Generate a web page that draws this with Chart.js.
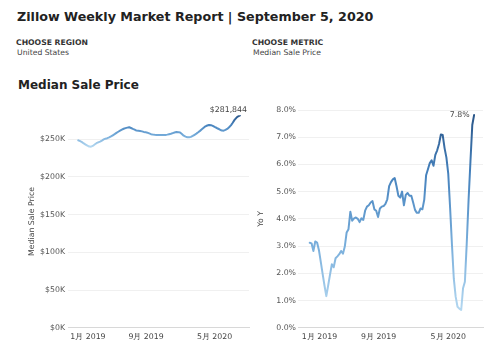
<!DOCTYPE html>
<html>
<head>
<meta charset="utf-8">
<script src="https://cdn.jsdelivr.net/npm/chart.js@4.4.1/dist/chart.umd.min.js"></script>
<style>
  body { margin:0; width:498px; height:354px; background:#fff; position:relative; overflow:hidden;
         font-family:'DejaVu Sans', sans-serif; color:#222; }
  .txt { position:absolute; white-space:nowrap; line-height:1; }
  canvas { position:absolute; top:100px; }
</style>
</head>
<body>
<div class="txt" style="left:17px; top:10.9px; font-size:12.7px; font-weight:bold;">Zillow Weekly Market Report | September 5, 2020</div>
<div class="txt" style="left:16px; top:39.2px; font-size:7.7px; font-weight:bold; color:#333;">CHOOSE REGION</div>
<div class="txt" style="left:17px; top:49.2px; font-size:7.7px; color:#444;">United States</div>
<div class="txt" style="left:252px; top:39.2px; font-size:7.7px; font-weight:bold; color:#333;">CHOOSE METRIC</div>
<div class="txt" style="left:253px; top:49.2px; font-size:7.7px; color:#444;">Median Sale Price</div>
<div class="txt" style="left:18px; top:79.2px; font-size:12px; font-weight:bold;">Median Sale Price</div>

<canvas id="price" width="250" height="254" style="left:0;"></canvas>
<canvas id="yoy" width="248" height="254" style="left:250px;"></canvas>

<script>
// weekly series, Dec 2018 -> Aug 2020 (one value per week)
const PRICE = [
  248700, 247500, 246300, 244500, 243000, 241500, 240300, 240200, 241200, 243000,
  244800, 246000, 247000, 248300, 249800, 250800, 251500, 252500, 253800, 255300,
  256800, 258500, 260000, 261500, 262800, 264000, 264800, 265500, 266000, 265000,
  263800, 262800, 261500, 261200, 260900, 260500, 259800, 259500, 258800, 257800,
  256800, 256200, 255900, 255700, 255800, 255600, 255700, 255800, 255800, 256200,
  256800, 257300, 258200, 259000, 259600, 259500, 259000, 257000, 254800, 253500,
  252700, 252600, 253200, 254500, 256000, 257500, 259300, 261200, 263200, 265200,
  267200, 268300, 269000, 268800, 267800, 266500, 265300, 264000, 262700, 261600,
  261500, 262500, 263800, 266000, 268500, 272000, 275800, 278500, 280500, 281844
];
const YOY = [
  3.12, 3.10, 2.82, 3.17, 3.13, 2.85, 2.42, 1.98, 1.55, 1.16,
  1.55, 1.95, 2.33, 2.22, 2.55, 2.62, 2.70, 2.82, 2.72, 2.98,
  3.50, 3.62, 4.26, 3.93, 4.02, 4.05, 4.00, 3.88, 4.02, 3.96,
  4.30, 4.45, 4.50, 4.60, 4.65, 4.35, 4.30, 4.07, 4.38, 4.45,
  4.47, 4.55, 4.72, 5.20, 5.35, 5.45, 5.50, 5.20, 4.85, 4.78,
  5.00, 4.50, 4.88, 4.95, 4.85, 4.85, 4.60, 4.33, 4.22, 4.22,
  4.38, 4.35, 4.70, 5.60, 5.82, 6.05, 6.15, 5.95, 6.35, 6.52,
  6.75, 7.10, 7.08, 6.60, 6.25, 5.65, 4.40, 3.05, 1.80, 1.14,
  0.77, 0.70, 0.65, 1.45, 1.69, 3.10, 4.70, 6.10, 7.45, 7.82
];
const WEEKS = PRICE.map((_, i) => i);
const XTICK_POS = [5.3, 37.3, 75];
const XTICK_LABELS = ['1月 2019', '9月 2019', '5月 2020'];
const PRICE_TICKS = [0, 50000, 100000, 150000, 200000, 250000];
const YOY_TICKS = [0, 1, 2, 3, 4, 5, 6, 7, 8];

Chart.defaults.font.family = "'DejaVu Sans', sans-serif";
Chart.defaults.font.size = 7.8;
Chart.defaults.color = '#555';

// colour the line by value: light blue at the low, dark blue at the high
function valueGradient(context) {
  const chart = context.chart;
  if (!chart.chartArea) return '#5b9bd5';
  const vals = chart.data.datasets[0].data;
  const y = chart.scales.y;
  const g = chart.ctx.createLinearGradient(0, y.getPixelForValue(Math.min(...vals)), 0, y.getPixelForValue(Math.max(...vals)));
  g.addColorStop(0, '#b3d7f0');
  g.addColorStop(0.35, '#76acda');
  g.addColorStop(0.7, '#4682bd');
  g.addColorStop(1, '#2a5689');
  return g;
}

const endLabel = {
  id: 'endLabel',
  afterDatasetsDraw(chart, args, opts) {
    const pts = chart.getDatasetMeta(0).data;
    const last = pts[pts.length - 1];
    const ctx = chart.ctx;
    ctx.save();
    ctx.font = "7.8px 'DejaVu Sans', sans-serif";
    ctx.fillStyle = '#444';
    ctx.textAlign = 'right';
    ctx.textBaseline = 'middle';
    ctx.fillText(opts.text, last.x + opts.dx, last.y + opts.dy);
    ctx.restore();
  }
};

function makeChart(id, values, cfg) {
  return new Chart(document.getElementById(id), {
    type: 'line',
    data: {
      labels: WEEKS,
      datasets: [{ data: values, borderColor: valueGradient, borderWidth: 2, pointRadius: 0, tension: 0,
                   borderJoinStyle: 'round', borderCapStyle: 'round' }],
    },
    options: {
      responsive: false, animation: false, events: [],
      layout: { padding: { top: cfg.top, right: cfg.right, left: 0, bottom: 0 } },
      plugins: { legend: { display: false }, tooltip: { enabled: false }, endLabel: cfg.label },
      scales: {
        x: {
          type: 'linear', min: cfg.xmin, max: cfg.xmax,
          afterBuildTicks: s => { s.ticks = XTICK_POS.map(v => ({ value: v })); },
          afterFit: s => { s.height = 26.3; },
          ticks: { padding: 5, maxRotation: 0, autoSkip: false, color: '#444',
                   callback: (v, i) => XTICK_LABELS[i] },
          grid: { drawOnChartArea: false, drawTicks: false },
          border: { display: true, color: '#d8d8d8', dash: [1, 4] },
        },
        y: {
          min: 0, max: cfg.ymax,
          afterBuildTicks: s => { s.ticks = cfg.ticks.map(v => ({ value: v })); },
          afterFit: s => { s.width = cfg.yWidth; },
          ticks: { autoSkip: false, padding: cfg.tickPad, color: '#555', callback: cfg.fmt },
          grid: { color: '#f0f0f0', drawTicks: false },
          border: { display: false },
          title: { display: true, text: cfg.title, color: '#444', font: { size: 7.8 },
                   padding: { top: cfg.titlePad, bottom: 0 } },
        },
      },
    },
    plugins: [endLabel],
  });
}

makeChart('price', PRICE, {
  top: 15.3, right: 1, xmin: -5.67, xmax: 93.95,
  ymax: Math.max(...PRICE), ticks: PRICE_TICKS, yWidth: 68, tickPad: 3, titlePad: 27,
  title: 'Median Sale Price', fmt: v => '$' + (v / 1000) + 'K',
  label: { text: '$' + PRICE[PRICE.length - 1].toLocaleString('en-US'), dx: 7, dy: -5.5 },
});

makeChart('yoy', YOY, {
  top: 10, right: 15, xmin: -6.33, xmax: 93.8,
  ymax: 8, ticks: YOY_TICKS, yWidth: 48, tickPad: 2, titlePad: 6,
  title: 'Yo Y', fmt: v => v.toFixed(1) + '%',
  label: { text: YOY[YOY.length - 1].toFixed(1) + '%', dx: -4.5, dy: 0 },
});
</script>
</body>
</html>
